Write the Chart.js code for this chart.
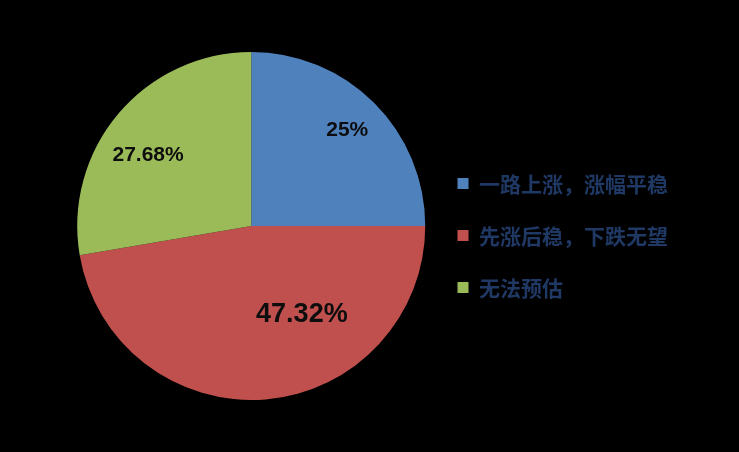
<!DOCTYPE html>
<html>
<head>
<meta charset="utf-8">
<script src="https://cdn.jsdelivr.net/npm/chart.js@4/dist/chart.umd.min.js"></script>
<style>
  html, body { margin: 0; padding: 0; background: #000; }
  #wrap { width: 739px; height: 452px; position: relative; }
</style>
</head>
<body>
<div id="wrap"><canvas id="p_chart"></canvas></div>
<script>
var categories = ["一路上涨，涨幅平稳", "先涨后稳，下跌无望", "无法预估"];
var shares = [25, 47.32, 27.68];
var shareLabels = ["25%", "47.32%", "27.68%"];
var colors = ["#4F81BD", "#C0504D", "#9BBB59"];

// where each percentage sits inside its slice (fraction of radius, angle shift in degrees)
var labelPlace = [
    { r: 0.78, shift: 0, font: "bold 21px 'Liberation Sans', Arial, sans-serif" },
    { r: 0.585, shift: -25, font: "bold 27px 'Liberation Sans', Arial, sans-serif" },
    { r: 0.72, shift: -5.6, font: "bold 21px 'Liberation Sans', Arial, sans-serif" }
];

var sliceLabels = {
    id: "sliceLabels",
    afterDatasetsDraw(chart) {
        var ctx = chart.ctx;
        var meta = chart.getDatasetMeta(0);
        ctx.save();
        ctx.fillStyle = "#0d0d0d";
        ctx.textAlign = "center";
        ctx.textBaseline = "middle";
        meta.data.forEach(function (arc, i) {
            var p = arc.getProps(["x", "y", "startAngle", "endAngle", "outerRadius"], true);
            var mid = (p.startAngle + p.endAngle) / 2 + labelPlace[i].shift * Math.PI / 180;
            var r = p.outerRadius * labelPlace[i].r;
            ctx.font = labelPlace[i].font;
            ctx.fillText(shareLabels[i], p.x + r * Math.cos(mid), p.y + r * Math.sin(mid));
        });
        ctx.restore();
    }
};

var ctx = document.getElementById("p_chart");
var chart = new Chart(ctx, {
    type: "pie",
    data: {
        labels: categories,
        datasets: [{
            data: shares,
            backgroundColor: colors,
            borderWidth: 0
        }]
    },
    options: {
        responsive: true,
        maintainAspectRatio: false,
        animation: false,
        events: [],
        layout: {
            padding: { top: 52, bottom: 52, left: 76, right: 61 }
        },
        plugins: {
            tooltip: { enabled: false },
            legend: {
                position: "right",
                align: "center",
                title: {
                    display: true,
                    text: " ",
                    font: { size: 1 },
                    padding: { top: 18, bottom: 0 }
                },
                labels: {
                    boxWidth: 11,
                    boxHeight: 11,
                    padding: 31,
                    color: "#1F3864",
                    font: { family: "'Noto Sans CJK SC', sans-serif", size: 21, weight: "bold" }
                }
            }
        }
    },
    plugins: [sliceLabels]
});
</script>
</body>
</html>
